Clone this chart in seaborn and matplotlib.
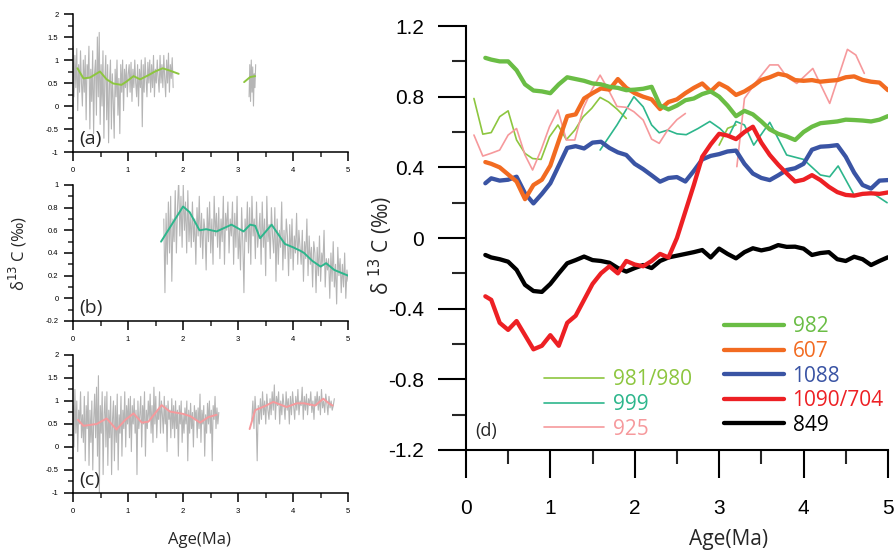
import numpy as np
import pandas as pd
import matplotlib
matplotlib.use('Agg')
import matplotlib.pyplot as plt
from matplotlib.ticker import MultipleLocator, FuncFormatter
import seaborn as sns

sns.set_style('ticks')
plt.rcParams['font.family'] = ['Liberation Sans', 'DejaVu Sans']
plt.rcParams['axes.unicode_minus'] = False

LABEL_FONT = ['Open Sans', 'DejaVu Sans']

# ---------------- left panels: raw records (grey) and smoothed (colour)
# panel (a), site 981/980
a_raw1_span = [0.0, 1.82]
a_raw1 = [1.3, 0.2, 1.1, 0.4, 1.25, -0.1, 0.9, 0.3, 1.2, 0.5, 0.0, 1.0,
          0.3, 1.1, -0.3, 0.9, 0.6, 1.3, -0.5, 0.8, 0.1, 1.2, -0.6, 0.7,
          1.0, -0.2, 1.5, 0.2, 1.6, -0.4, 0.9, 0.0, 1.2, -0.7, 0.6, 1.1,
          -0.3, 0.9, -0.8, 0.5, 1.0, -0.5, 0.7, 0.1, -0.7, 0.8, 0.2, 1.0,
          -0.2, 0.6, -0.6, 0.9, 0.3, 1.0, -0.1, 0.8, 0.4, 0.9, 0.2, 0.7,
          0.9, 0.3, 0.95, 0.1, 0.8, 0.4, 1.0, 0.5, 0.2, 0.9, 0.0, 0.8,
          0.4, 1.0, -0.45, 0.9, 0.3, 1.05, 0.6, 0.2, 0.95, 0.5, 1.0, 0.3,
          0.9, 0.4, 1.1, 0.2, 0.8, 0.5, 1.0, 0.6, 0.3, 1.1, 0.5, 0.9,
          0.4, 1.1, 0.6, 0.2, 1.0, 0.5, 1.15, 0.3, 0.9, 0.6, 1.05, 0.4]
a_raw2_span = [3.2, 3.32]
a_raw2 = [0.2, 0.9, 0.1, 1.0, 0.3, 0.85, 0.0, 0.7, 0.4, 0.9]
a_smooth1_age = [0.08, 0.19, 0.31, 0.49, 0.61, 0.73, 0.88, 0.97, 1.1, 1.22, 1.37, 1.49, 1.63, 1.76, 1.92]
a_smooth1 = [0.82, 0.6, 0.62, 0.75, 0.58, 0.49, 0.46, 0.53, 0.65, 0.58, 0.67, 0.75, 0.82, 0.77, 0.7]
a_smooth2_age = [3.11, 3.22, 3.31]
a_smooth2 = [0.52, 0.63, 0.65]

# panel (b), site 999
b_raw_span = [1.65, 5.0]
b_raw = [0.7, 0.05, 0.75, 0.3, 0.85, 0.4, 0.9, 0.15, 0.7, 0.5, 0.95, 0.4,
         0.8, 1.05, 0.55, 0.9, 0.45, 1.0, 0.6, 0.85, 0.4, 0.95, 0.5, 0.75,
         0.45, 0.85, 0.5, 0.7, 0.3, 0.8, 0.55, 0.9, 0.45, 0.75, 0.35, 0.7,
         0.6, 0.25, 0.8, 0.5, 0.85, 0.4, 0.7, 0.3, 0.9, 0.55, 0.75, 0.45,
         0.8, 0.35, 0.7, 0.5, 0.9, 0.3, 0.75, 0.6, 0.85, 0.4, 0.7, 0.55,
         0.85, 0.3, 0.75, 0.45, 0.9, 0.35, 0.6, 0.25, 0.8, 0.5, 0.05, 0.7,
         0.5, 0.85, 0.4, 0.8, 0.3, 0.9, 0.55, 0.7, 0.35, 0.85, 0.45, 0.6,
         0.75, 0.3, 0.85, 0.45, 0.7, 0.2, 0.9, 0.5, 0.65, 0.35, 0.8, 0.55,
         0.4, 0.8, 0.15, 0.7, 0.3, 0.6, 0.45, 0.85, 0.25, 0.6, 0.35, 0.7,
         0.55, 0.2, 0.65, 0.35, 0.7, 0.25, 0.55, 0.4, 0.75, 0.3, 0.6, 0.45,
         0.3, 0.6, 0.15, 0.5, 0.35, 0.7, 0.2, 0.55, 0.3, 0.45, 0.1, 0.5,
         0.4, 0.05, 0.45, 0.2, 0.55, 0.15, 0.4, 0.3, 0.6, 0.1, 0.35, 0.25,
         0.35, 0.0, 0.4, 0.15, 0.5, 0.1, 0.3, -0.05, 0.45, 0.2, 0.35, 0.05,
         0.3, 0.1, 0.4, 0.0, 0.25, 0.15]
b_smooth_age = [1.6, 2.0, 2.12, 2.3, 2.42, 2.61, 2.88, 3.1, 3.22, 3.31, 3.4,
                3.61, 3.85, 4.0, 4.13, 4.2, 4.35, 4.5, 4.6, 4.75, 4.9, 5.0]
b_smooth = [0.5, 0.81, 0.76, 0.6, 0.61, 0.59, 0.65, 0.59, 0.65, 0.64, 0.53,
            0.65, 0.48, 0.45, 0.42, 0.40, 0.33, 0.28, 0.31, 0.25, 0.22, 0.2]

# panel (c), site 925
c_raw1_span = [0.0, 2.65]
c_raw1 = [0.9, 0.0, 1.25, 0.3, 1.0, -0.1, 0.8, 0.5, 1.2, 0.2, 0.7, 0.1,
          1.1, -0.3, 0.9, 0.4, 1.2, -0.4, 0.8, 0.1, 1.0, -0.5, 0.6, 1.15,
          0.2, 1.3, -0.2, 1.55, -1.0, 0.9, 0.3, 1.2, -0.6, 0.7, 1.1, 0.0,
          1.2, -0.4, 0.8, 0.2, 1.1, -0.6, 0.6, 1.0, -0.3, 0.9, 0.1, 1.15,
          -0.5, 0.7, 0.3, 1.1, -0.2, 0.8, 0.4, 1.2, 0.0, 0.9, 0.5, 1.05,
          0.2, 1.1, -0.1, 0.9, 0.5, 1.05, 0.3, 0.8, -0.6, 1.0, 0.4, 0.7,
          1.1, 0.0, 0.9, 0.5, 1.2, -0.2, 0.8, 0.4, 1.0, 0.6, 1.15, 0.3,
          0.9, 0.1, 1.3, 0.5, 1.1, 0.2, 0.8, 0.6, 1.2, 0.3, 1.0, 0.7,
          0.3, 1.1, 0.5, 0.9, -0.1, 1.0, 0.6, 0.8, 0.2, 1.05, 0.4, 0.9,
          0.2, 1.0, 0.4, 0.8, -0.2, 0.9, 0.5, 1.0, 0.1, 0.7, 0.3, 0.85,
          0.5, 1.0, -0.3, 0.8, 0.3, 0.95, 0.4, 0.75, 0.0, 0.9, 0.6, 0.8,
          0.2, 0.85, 0.4, 1.15, 0.1, 0.8, 0.5, 0.9, -0.2, 0.7, 0.3, 0.95,
          0.5, 1.0, 0.3, 0.8, -0.3, 0.9, 0.6, 1.1, 0.4, 0.85, 0.5, 0.75]
c_raw2_span = [3.25, 4.75]
c_raw2 = [0.6, 1.0, 0.4, 1.1, 0.7, -0.3, 0.9, 0.5, 1.05, 0.6,
          1.2, 0.7, 1.0, 0.5, 1.15, 0.8, 0.6, 1.05, 0.7, 1.2,
          0.8, 1.35, 0.6, 1.1, 0.9, 1.2, 0.5, 1.0, 0.7, 1.15,
          0.9, 0.6, 1.2, 0.8, 1.05, 0.5, 1.1, 0.7, 1.2, 0.9,
          0.6, 1.1, 0.8, 1.25, 0.7, 1.0, 0.9, 1.3, 0.6, 1.1,
          0.8, 1.15, 0.7, 1.05, 0.9, 1.2, 0.75, 1.0, 0.6, 1.1,
          0.9, 1.2, 0.8, 1.1, 0.7, 1.25, 0.85, 1.0, 0.75, 1.15,
          0.95, 0.7, 1.1, 0.85, 1.0, 0.8, 0.9, 1.05]
c_smooth1_age = [0.09, 0.19, 0.43, 0.61, 0.79, 0.95, 1.1, 1.25, 1.37, 1.61, 1.76, 2.0, 2.13, 2.31, 2.46, 2.61]
c_smooth1 = [0.59, 0.46, 0.5, 0.62, 0.38, 0.59, 0.73, 0.53, 0.55, 0.91, 0.77, 0.72, 0.67, 0.53, 0.65, 0.7]
c_smooth2_age = [3.21, 3.31, 3.49, 3.64, 3.88, 4.07, 4.2, 4.4, 4.55, 4.65, 4.72]
c_smooth2 = [0.39, 0.8, 0.89, 0.98, 0.87, 0.95, 0.95, 0.9, 1.05, 0.95, 0.9]

# ---------------- right panel (d): stacked smoothed records
thick_age = [0.23, 0.3, 0.4, 0.5, 0.6, 0.7, 0.8, 0.9, 1.0,
             1.1, 1.2, 1.3, 1.4, 1.5, 1.6, 1.7, 1.8, 1.9, 2.0,
             2.1, 2.2, 2.3, 2.4, 2.5, 2.6, 2.7, 2.8, 2.9, 3.0,
             3.1, 3.2, 3.3, 3.4, 3.5, 3.6, 3.7, 3.8, 3.9, 4.0,
             4.1, 4.2, 4.3, 4.4, 4.5, 4.6, 4.7, 4.8, 4.9, 5.0]
site982 = [1.02, 1.01, 1.0, 1.0, 0.95, 0.87, 0.835, 0.83, 0.82,
           0.87, 0.91, 0.9, 0.89, 0.875, 0.87, 0.856, 0.85, 0.837, 0.84,
           0.845, 0.856, 0.75, 0.728, 0.75, 0.78, 0.79, 0.815, 0.83, 0.8,
           0.75, 0.69, 0.72, 0.7, 0.66, 0.615, 0.59, 0.575, 0.555, 0.6,
           0.63, 0.65, 0.655, 0.66, 0.67, 0.668, 0.665, 0.66, 0.67, 0.69]
site607 = [0.43, 0.42, 0.40, 0.36, 0.32, 0.22, 0.30, 0.33, 0.41,
           0.55, 0.69, 0.70, 0.79, 0.82, 0.847, 0.84, 0.9, 0.85, 0.82,
           0.80, 0.785, 0.73, 0.77, 0.785, 0.82, 0.85, 0.875, 0.83, 0.875,
           0.85, 0.81, 0.83, 0.86, 0.895, 0.91, 0.93, 0.92, 0.894, 0.89,
           0.894, 0.885, 0.89, 0.894, 0.91, 0.915, 0.895, 0.885, 0.88, 0.837]
site1088 = [0.31, 0.338, 0.325, 0.33, 0.347, 0.253, 0.196, 0.25, 0.31,
            0.41, 0.51, 0.52, 0.507, 0.54, 0.545, 0.51, 0.485, 0.47, 0.42,
            0.39, 0.355, 0.319, 0.34, 0.345, 0.32, 0.38, 0.445, 0.465, 0.475,
            0.49, 0.495, 0.42, 0.365, 0.34, 0.328, 0.355, 0.385, 0.395, 0.42,
            0.5, 0.517, 0.52, 0.526, 0.46, 0.37, 0.3, 0.28, 0.325, 0.328]
site1090 = [-0.33, -0.35, -0.48, -0.52, -0.47, -0.55, -0.63, -0.61, -0.55,
            -0.61, -0.48, -0.44, -0.35, -0.26, -0.2, -0.16, -0.2, -0.13, -0.15,
            -0.16, -0.13, -0.09, -0.11, 0.0, 0.15, 0.3, 0.46, 0.53, 0.59,
            0.58, 0.56, 0.6, 0.63, 0.54, 0.47, 0.415, 0.366, 0.32, 0.33,
            0.356, 0.328, 0.29, 0.26, 0.244, 0.24, 0.25, 0.253, 0.25, 0.258]
site849 = [-0.096, -0.11, -0.12, -0.134, -0.18, -0.265, -0.3, -0.305, -0.26,
           -0.2, -0.143, -0.125, -0.105, -0.125, -0.13, -0.14, -0.17, -0.19, -0.17,
           -0.153, -0.17, -0.13, -0.11, -0.1, -0.09, -0.08, -0.068, -0.11, -0.06,
           -0.09, -0.115, -0.08, -0.058, -0.07, -0.06, -0.04, -0.05, -0.049, -0.06,
           -0.096, -0.085, -0.08, -0.12, -0.13, -0.106, -0.12, -0.153, -0.13, -0.109]

s981_age1 = [0.095, 0.2, 0.3, 0.4, 0.5, 0.6, 0.7, 0.79, 0.89, 0.99, 1.09, 1.19, 1.29, 1.39, 1.49, 1.59, 1.69, 1.79, 1.9]
s981_val1 = [0.79, 0.588, 0.597, 0.687, 0.72, 0.555, 0.479, 0.45, 0.445, 0.573, 0.64, 0.557, 0.611, 0.687, 0.734, 0.796, 0.77, 0.73, 0.677]
s981_age2 = [3.0, 3.1, 3.2]
s981_val2 = [0.526, 0.621, 0.64]
s999_age = [1.59, 1.79, 1.99, 2.1, 2.2, 2.29, 2.39, 2.5, 2.61, 2.75, 2.89, 3.01, 3.11,
            3.2, 3.3, 3.41, 3.6, 3.8, 4.0, 4.2, 4.31, 4.41, 4.6, 4.8, 4.99]
s999_val = [0.498, 0.64, 0.8, 0.743, 0.64, 0.596, 0.611, 0.59, 0.585, 0.62, 0.66, 0.62, 0.573,
            0.66, 0.64, 0.526, 0.655, 0.47, 0.445, 0.357, 0.347, 0.408, 0.243, 0.26, 0.2]
s925_age1 = [0.095, 0.2, 0.3, 0.4, 0.5, 0.6, 0.7, 0.79, 0.89, 0.99, 1.09, 1.19, 1.29,
             1.39, 1.49, 1.59, 1.69, 1.79, 1.9, 1.99, 2.1, 2.2, 2.29, 2.39, 2.5, 2.6]
s925_val1 = [0.583, 0.464, 0.48, 0.498, 0.583, 0.62, 0.47, 0.385, 0.498, 0.63, 0.725, 0.555, 0.555,
             0.734, 0.837, 0.922, 0.837, 0.745, 0.74, 0.715, 0.668, 0.56, 0.536, 0.611, 0.67, 0.705]
s925_age2 = [3.21, 3.3, 3.44, 3.6, 3.7, 3.8, 3.92, 4.11, 4.31, 4.52, 4.62, 4.72]
s925_val2 = [0.404, 0.79, 0.885, 0.98, 0.98, 0.913, 0.875, 0.96, 0.762, 1.068, 1.036, 0.932]

GREY = '#b5b5b5'
C982, C607, C1088, C1090, C849 = '#6abd45', '#f26b21', '#3a54a4', '#ed2024', '#000000'
C981, C999, C925 = '#8dc63f', '#2db68c', '#f6999c'

fig = plt.figure(figsize=(8.96, 5.52), dpi=100)


def draw_raw(ax, span, vals):
    age = np.linspace(span[0], span[1], len(vals))
    sns.lineplot(x=age, y=vals, ax=ax, color=GREY, linewidth=0.8, sort=False)


def style_small(ax, ylim, major, minor, label):
    ax.set_xlim(0, 5)
    ax.set_ylim(*ylim)
    ax.xaxis.set_major_locator(MultipleLocator(1))
    ax.xaxis.set_minor_locator(MultipleLocator(0.5))
    ax.yaxis.set_major_locator(MultipleLocator(major))
    ax.yaxis.set_minor_locator(MultipleLocator(minor))
    ax.yaxis.set_major_formatter(FuncFormatter(lambda v, p: f'{v:g}'))
    ax.tick_params(which='major', length=6.5, width=1.1, labelsize=5.5, pad=4, colors='black')
    ax.tick_params(which='minor', length=3.5, width=1.1)
    for s in ['top', 'right']:
        ax.spines[s].set_visible(False)
    for s in ['left', 'bottom']:
        ax.spines[s].set_linewidth(1.1)
        ax.spines[s].set_color('black')
    ax.set_xlabel('')
    ax.set_ylabel('')
    ax.text(0.022, 0.03, label, transform=ax.transAxes, fontsize=14,
            family=LABEL_FONT, ha='left', va='bottom')


ax_a = fig.add_axes([0.0815, 0.7246, 0.307, 0.25])
draw_raw(ax_a, a_raw1_span, a_raw1)
draw_raw(ax_a, a_raw2_span, a_raw2)
sns.lineplot(x=a_smooth1_age, y=a_smooth1, ax=ax_a, color=C981, linewidth=1.4)
sns.lineplot(x=a_smooth2_age, y=a_smooth2, ax=ax_a, color=C981, linewidth=1.4)
style_small(ax_a, (-1, 2), 0.5, 0.25, '(a)')

ax_b = fig.add_axes([0.0815, 0.4185, 0.307, 0.2464])
draw_raw(ax_b, b_raw_span, b_raw)
sns.lineplot(x=b_smooth_age, y=b_smooth, ax=ax_b, color=C999, linewidth=1.4)
style_small(ax_b, (-0.2, 1), 0.2, 0.1, '(b)')

ax_c = fig.add_axes([0.0815, 0.1069, 0.307, 0.25])
draw_raw(ax_c, c_raw1_span, c_raw1)
draw_raw(ax_c, c_raw2_span, c_raw2)
sns.lineplot(x=c_smooth1_age, y=c_smooth1, ax=ax_c, color=C925, linewidth=1.4)
sns.lineplot(x=c_smooth2_age, y=c_smooth2, ax=ax_c, color=C925, linewidth=1.4)
style_small(ax_c, (-1, 2), 0.5, 0.25, '(c)')

fig.text(18 / 896, 1 - 253 / 552, r'δ$^{13}$ C (‰)', rotation=90, ha='center', va='center',
         fontsize=12, family=LABEL_FONT)
fig.text(199 / 896, 1 - 540 / 552, 'Age(Ma)', ha='center', va='center',
         fontsize=12, family=LABEL_FONT)

# ---------------- right panel
ax = fig.add_axes([0.520, 0.1848, 0.471, 0.768])
thin = 1.2
thick = 3.1
sns.lineplot(x=s981_age1, y=s981_val1, ax=ax, color=C981, linewidth=thin, label='981/980')
sns.lineplot(x=s981_age2, y=s981_val2, ax=ax, color=C981, linewidth=thin)
sns.lineplot(x=s999_age, y=s999_val, ax=ax, color=C999, linewidth=thin, label='999')
sns.lineplot(x=s925_age1, y=s925_val1, ax=ax, color=C925, linewidth=thin, label='925')
sns.lineplot(x=s925_age2, y=s925_val2, ax=ax, color=C925, linewidth=thin)

thick_df = pd.DataFrame({'age': thick_age, '982': site982, '607': site607, '1088': site1088,
                         '1090/704': site1090, '849': site849})
thick_colors = {'982': C982, '607': C607, '1088': C1088, '1090/704': C1090, '849': C849}
for name in ['849', '1088', '1090/704', '607', '982']:
    sns.lineplot(data=thick_df, x='age', y=name, ax=ax, color=thick_colors[name],
                 linewidth=thick, label=name)

if ax.get_legend() is not None:
    ax.get_legend().remove()

handles, labels = ax.get_legend_handles_labels()
hmap = dict(zip(labels, handles))

leg_kw = dict(frameon=False, loc='upper left', borderpad=0, borderaxespad=0,
              handlelength=2.9, handletextpad=0.4, labelspacing=0.17,
              labelcolor='linecolor', prop={'family': LABEL_FONT, 'size': 15})
leg1 = ax.legend([hmap[k] for k in ['982', '607', '1088', '1090/704', '849']],
                 ['982', '607', '1088', '1090/704', '849'],
                 bbox_to_anchor=(0.611, 0.315), **leg_kw)
ax.add_artist(leg1)
ax.legend([hmap[k] for k in ['981/980', '999', '925']], ['981/980', '999', '925'],
          bbox_to_anchor=(0.185, 0.19), **leg_kw)

ax.set_xlim(0, 5)
ax.set_ylim(-1.2, 1.2)
ax.xaxis.set_major_locator(MultipleLocator(1))
ax.xaxis.set_minor_locator(MultipleLocator(0.5))
ax.yaxis.set_major_locator(MultipleLocator(0.4))
ax.yaxis.set_minor_locator(MultipleLocator(0.2))
ax.yaxis.set_major_formatter(FuncFormatter(lambda v, p: f'{v:.1f}' if abs(v) > 1e-9 else '0'))
ax.tick_params(which='major', length=20, width=1.5, labelsize=15, colors='black')
ax.tick_params(axis='y', which='major', pad=10)
ax.tick_params(axis='x', which='major', pad=15)
ax.tick_params(which='minor', length=10, width=1.5)
for s in ['top', 'right']:
    ax.spines[s].set_visible(False)
for s in ['left', 'bottom']:
    ax.spines[s].set_linewidth(1.5)
    ax.spines[s].set_color('black')

ax.set_ylabel(r'δ $^{13}$ C (‰)', fontsize=15, family=LABEL_FONT)
ax.yaxis.set_label_coords(-0.168, 0.483)
ax.set_xlabel('Age(Ma)', fontsize=15, family=LABEL_FONT)
ax.xaxis.set_label_coords(0.623, -0.187)
ax.text(0.021, 0.024, '(d)', transform=ax.transAxes, fontsize=13,
        family=LABEL_FONT, ha='left', va='bottom')

fig.savefig('out.png', dpi=100)
